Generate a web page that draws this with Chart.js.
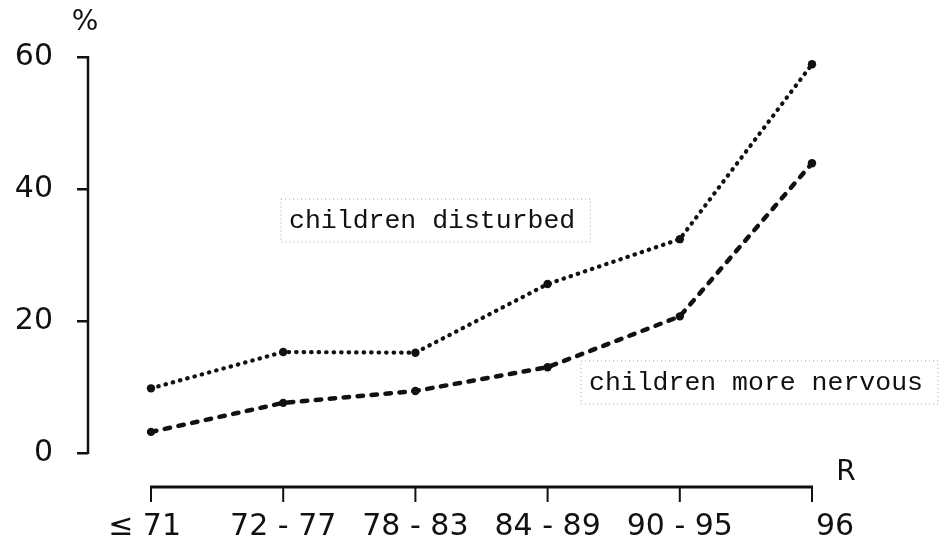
<!DOCTYPE html>
<html><head><meta charset="utf-8">
<script src="https://cdn.jsdelivr.net/npm/chart.js@4.4.0/dist/chart.umd.min.js"></script>
<style>html,body{margin:0;padding:0;background:#fff;}#wrap{width:940px;height:547px;}</style>
</head><body><div id="wrap"><canvas id="c" width="940" height="547"></canvas></div>
<script>
// ---- data ----
const categories = ['\u2264 71', '72 - 77', '78 - 83', '84 - 89', '90 - 95', '96'];
const disturbed = [9.8, 15.3, 15.2, 25.6, 32.4, 58.9];
const nervous = [3.2, 7.6, 9.4, 13.0, 20.7, 43.9];
const yTicks = [0, 20, 40, 60];
const seriesNames = ['children disturbed', 'children more nervous'];
const yUnit = '%';
const xUnit = 'R';

// ---- styles ----
const INK = '#111';
const FONT = '"DejaVu Sans", sans-serif';
const MONO = '"Liberation Mono", "DejaVu Sans Mono", monospace';

const overlay = {
  id: 'overlay',
  afterDraw(chart) {
    const ctx = chart.ctx, xs = chart.scales.x, ys = chart.scales.y, a = chart.chartArea;
    ctx.save();
    ctx.strokeStyle = INK; ctx.fillStyle = INK;
    // y axis line (0 .. 60)
    ctx.lineWidth = 2.5; ctx.lineCap = 'butt';
    ctx.beginPath();
    ctx.moveTo(a.left, ys.getPixelForValue(yTicks[0]) + 1);
    ctx.lineTo(a.left, ys.getPixelForValue(yTicks[yTicks.length - 1]) - 1);
    ctx.stroke();
    // x axis line with ticks
    const x0 = xs.getPixelForValue(0), x1 = xs.getPixelForValue(categories.length - 1), yb = a.bottom;
    ctx.lineWidth = 3;
    ctx.beginPath(); ctx.moveTo(x0 - 1, yb); ctx.lineTo(x1 + 1, yb); ctx.stroke();
    ctx.lineWidth = 2;
    categories.forEach((c, i) => {
      const px = xs.getPixelForValue(i);
      ctx.beginPath(); ctx.moveTo(px, yb); ctx.lineTo(px, yb + 15); ctx.stroke();
    });
    // x labels
    ctx.font = '30px ' + FONT; ctx.textBaseline = 'alphabetic';
    categories.forEach((c, i) => {
      const px = xs.getPixelForValue(i);
      let align = 'center', dx = 0;
      if (i === 0) { align = 'right'; dx = 30; }
      else if (i === categories.length - 1) { align = 'left'; dx = 4; }
      ctx.textAlign = align;
      ctx.fillText(c, px + dx, yb + 48);
    });
    // axis units
    ctx.font = '28px ' + FONT; ctx.textAlign = 'center'; ctx.textBaseline = 'middle';
    ctx.fillText(yUnit, a.left - 3, a.top - 34);
    ctx.fillText(xUnit, x1 + 34, yb - 14);
    // series annotations in dotted boxes
    const notes = [
      { text: seriesNames[0], x: 1.044, y: 35.3 },
      { text: seriesNames[1], x: 3.313, y: 10.76 }
    ];
    ctx.font = '26.5px ' + MONO; ctx.textAlign = 'left'; ctx.textBaseline = 'middle';
    notes.forEach(n => {
      const tx = xs.getPixelForValue(n.x), ty = ys.getPixelForValue(n.y);
      const w = ctx.measureText(n.text).width;
      ctx.save();
      ctx.strokeStyle = 'rgba(0,0,0,0.35)'; ctx.lineWidth = 1; ctx.setLineDash([1, 3]);
      ctx.strokeRect(tx - 8, ty - 21, w + 23, 43);
      ctx.restore();
      ctx.fillText(n.text, tx, ty + 1);
    });
    ctx.restore();
  }
};

new Chart(document.getElementById('c'), {
  type: 'line',
  data: {
    datasets: [
      {
        label: seriesNames[0],
        data: disturbed.map((v, i) => ({ x: i, y: v })),
        borderColor: INK, borderWidth: 4.2, borderDash: [0.5, 7], borderCapStyle: 'round',
        pointRadius: 4.2, pointBackgroundColor: INK, pointBorderWidth: 0, tension: 0, fill: false, clip: false
      },
      {
        label: seriesNames[1],
        data: nervous.map((v, i) => ({ x: i, y: v })),
        borderColor: INK, borderWidth: 4.5, borderDash: [5.5, 8.5], borderCapStyle: 'round',
        pointRadius: 4.2, pointBackgroundColor: INK, pointBorderWidth: 0, tension: 0, fill: false, clip: false
      }
    ]
  },
  options: {
    responsive: false, animation: false, devicePixelRatio: 1,
    layout: { padding: { left: 0, right: 128, top: 57, bottom: 60 } },
    plugins: { legend: { display: false }, tooltip: { enabled: false } },
    scales: {
      x: { type: 'linear', display: false, min: -0.4766, max: categories.length - 1 },
      y: {
        type: 'linear', min: -5.15, max: 60,
        afterBuildTicks: s => { s.ticks = yTicks.map(v => ({ value: v })); },
        afterFit: s => { s.width = 88; },
        border: { display: false },
        grid: { drawOnChartArea: false, drawTicks: true, tickLength: 11, color: INK, lineWidth: 2.5 },
        ticks: { color: INK, font: { family: FONT, size: 30 }, padding: 24 }
      }
    }
  },
  plugins: [overlay]
});
</script>
</body></html>
